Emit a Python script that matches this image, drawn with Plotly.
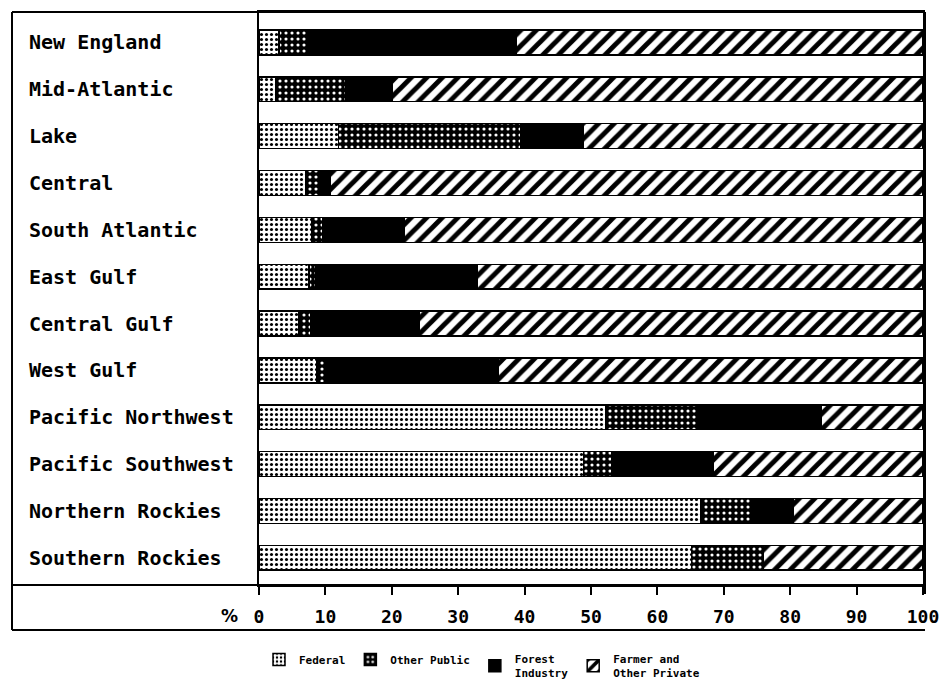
import plotly.graph_objects as go

regions = ["New England", "Mid-Atlantic", "Lake", "Central", "South Atlantic",
           "East Gulf", "Central Gulf", "West Gulf", "Pacific Northwest",
           "Pacific Southwest", "Northern Rockies", "Southern Rockies"]
federal = [3.0, 2.5, 12.0, 7.1, 8.0, 7.5, 6.0, 8.7, 52.2, 48.9, 66.6, 65.1]
other_public = [4.3, 10.6, 27.4, 1.9, 1.6, 1.1, 1.8, 1.5, 13.7, 4.2, 7.5, 10.8]
forest_industry = [31.5, 6.9, 9.5, 1.8, 12.2, 24.3, 16.4, 25.9, 18.8, 15.3, 6.4, 0.0]
farmer_private = [61.2, 80.0, 51.1, 89.2, 78.2, 67.1, 75.8, 63.9, 15.3, 31.6, 19.5, 24.1]
x_ticks = [0, 10, 20, 30, 40, 50, 60, 70, 80, 90, 100]

series = [
    ("Federal", federal, dict(shape=".", fgcolor="black", bgcolor="white", size=5, solidity=0.3)),
    ("Other Public", other_public, dict(shape=".", fgcolor="white", bgcolor="black", size=6, solidity=0.22)),
    ("Forest<br>Industry", forest_industry, None),
    ("Farmer and<br>Other Private", farmer_private, dict(shape="/", fgcolor="black", bgcolor="white", size=11, solidity=0.45)),
]

fig = go.Figure()
for name, vals, pat in series:
    marker = dict(color="black", line=dict(color="black", width=1.5))
    if pat is not None:
        marker["pattern"] = dict(fillmode="replace", **pat)
    fig.add_trace(go.Bar(y=regions, x=vals, orientation="h", name=name, marker=marker))

# plot-area geometry in px
W, H = 940, 696
L, R, T, B = 259, 923, 12, 585
pw, ph = R - L, B - T
def px_x(p):
    return (p - L) / pw
def px_y(p):
    return (B - p) / ph

mono = "DejaVu Sans Mono"
for r in regions:
    fig.add_annotation(x=px_x(27), xref="paper", y=r, yref="y", text=r,
                       showarrow=False, xanchor="left", yanchor="middle",
                       font=dict(family=mono, size=20, color="black", weight="bold"))

fig.add_annotation(x=px_x(240), xref="paper", y=px_y(616), yref="paper", text="%",
                   showarrow=False, xanchor="right", yanchor="middle",
                   font=dict(family="DejaVu Sans", size=17, color="black", weight="bold"))

# outer frame (open at the right of the tick-label row) and divider
frame_line = dict(color="black", width=2)
for (ax0, ay0, ax1, ay1) in [(12, 12, 925, 12), (12, 12, 12, 630), (12, 630, 925, 630),
                             (925, 12, 925, 594), (12, 585, 925, 585)]:
    fig.add_shape(type="line", xref="paper", yref="paper",
                  x0=px_x(ax0), x1=px_x(ax1), y0=px_y(ay0), y1=px_y(ay1),
                  line=frame_line, layer="above")

fig.update_layout(
    width=W, height=H,
    margin=dict(l=L, r=W - R, t=T, b=H - B, autoexpand=False),
    barmode="stack", bargap=0.47,
    paper_bgcolor="white", plot_bgcolor="white",
    showlegend=True,
    legend=dict(orientation="h", x=0.0, xanchor="left", y=px_y(666), yanchor="middle",
                font=dict(family=mono, size=11, color="black", weight="bold"),
                itemwidth=30, traceorder="normal", bgcolor="rgba(0,0,0,0)"),
    xaxis=dict(range=[0, 100], tickvals=x_ticks, ticktext=[str(v) for v in x_ticks],
               ticks="outside", ticklen=8, tickwidth=1.5, tickcolor="black",
               ticklabeloverflow="allow", ticklabelstandoff=6, automargin=False,
               showgrid=False, zeroline=False, showline=True, linecolor="black",
               linewidth=2, mirror=True,
               tickfont=dict(family=mono, size=18, color="black", weight="bold")),
    yaxis=dict(categoryorder="array", categoryarray=regions, automargin=False,
               range=[11.58, -0.65], showticklabels=False, ticks="",
               showgrid=False, zeroline=False, showline=True, linecolor="black",
               linewidth=2, mirror=True),
)

fig.write_html("out.html", config={"displayModeBar": False},
               post_script="document.body.style.margin='0';document.body.style.overflow='hidden';")
